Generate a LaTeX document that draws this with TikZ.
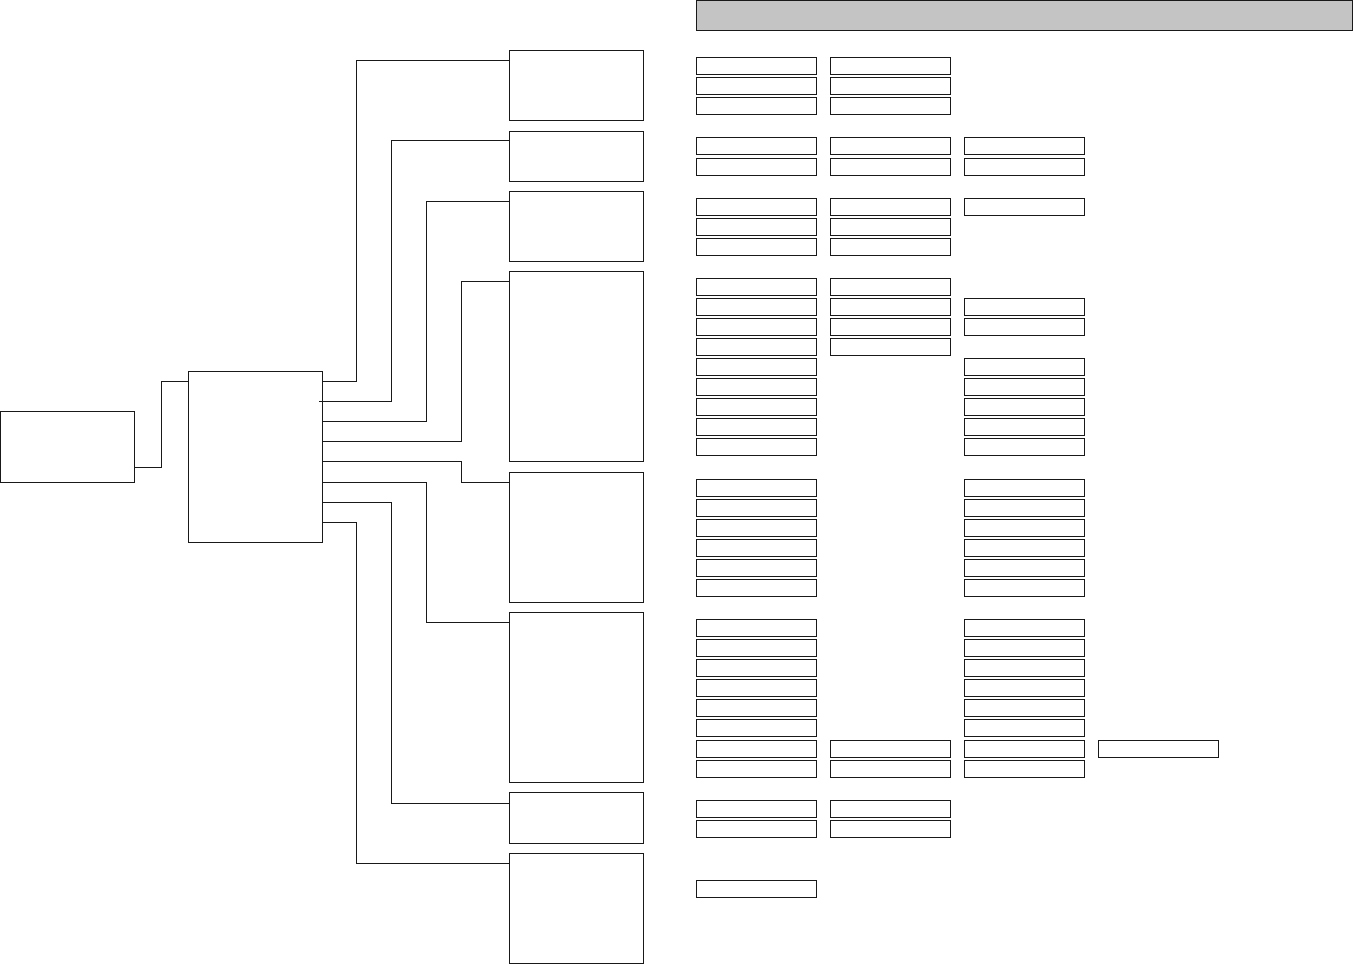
\documentclass[tikz,border=0pt]{standalone}
\usepackage{tikz}
\begin{document}
\begin{tikzpicture}[x=1pt,y=-1pt,line width=1.1pt,
  box/.style={draw=black!90,fill=white,inner sep=0pt,outer sep=0pt,anchor=north west,line width=1.1pt},
  sbox/.style={box,minimum width=120pt,minimum height=17pt},
  conn/.style={draw=black!90,line width=1.1pt}]
\useasboundingbox (0,0) rectangle (1353,964);
% header bar
\node[box,fill=black!23,minimum width=656pt,minimum height=30pt] (hdr) at (696.3,0.7) {};
% left and middle boxes
\node[box,minimum width=134pt,minimum height=71pt] (L) at (0.6,411.3) {};
\node[box,minimum width=134pt,minimum height=171pt] (M) at (188.3,371.3) {};
% right column boxes
\node[box,minimum width=134pt,minimum height=70pt] (B1) at (509.3,50.3) {};
\node[box,minimum width=134pt,minimum height=50pt] (B2) at (509.3,131.3) {};
\node[box,minimum width=134pt,minimum height=70pt] (B3) at (509.3,191.3) {};
\node[box,minimum width=134pt,minimum height=190pt] (B4) at (509.3,271.3) {};
\node[box,minimum width=134pt,minimum height=130pt] (B5) at (509.3,472.3) {};
\node[box,minimum width=134pt,minimum height=170pt] (B6) at (509.3,612.3) {};
\node[box,minimum width=134pt,minimum height=51pt] (B7) at (509.3,792.3) {};
\node[box,minimum width=134pt,minimum height=110pt] (B8) at (509.3,853.3) {};
% connectors
\draw[conn] (L.east |- 0,467.3) -| (161.3,381.3) -- (M.west |- 0,381.3);
\draw[conn] (M.east |- 0,381.3) -| (356.3,60.3) -- (B1.west |- 0,60.3);
\draw[conn] (319,401.3) -| (391.3,140.3) -- (B2.west |- 0,140.3);
\draw[conn] (M.east |- 0,421.3) -| (426.3,201.3) -- (B3.west |- 0,201.3);
\draw[conn] (M.east |- 0,441.3) -| (461.5,281.3) -- (B4.west |- 0,281.3);
\draw[conn] (M.east |- 0,461.3) -| (461.5,482.3) -- (B5.west |- 0,482.3);
\draw[conn] (M.east |- 0,482.3) -| (426.3,622.3) -- (B6.west |- 0,622.3);
\draw[conn] (M.east |- 0,502.3) -| (391.3,803.3) -- (B7.west |- 0,803.3);
\draw[conn] (M.east |- 0,522.3) -| (356.3,863.3) -- (B8.west |- 0,863.3);
% small boxes
\foreach \y in {57.3,77.3,97.3,137.3,158.3,198.3,218.3,238.3,278.3,298.3,318.3,338.3,358.3,378.3,398.3,418.3,438.3,479.3,499.3,519.3,539.3,559.3,579.3,619.3,639.3,659.3,679.3,699.3,719.3,740.3,760.3,800.3,820.3,880.3}
  \node[sbox] (a-\y) at (696.3,\y) {};
\foreach \y in {57.3,77.3,97.3,137.3,158.3,198.3,218.3,238.3,278.3,298.3,318.3,338.3,740.3,760.3,800.3,820.3}
  \node[sbox] (b-\y) at (830.3,\y) {};
\foreach \y in {137.3,158.3,198.3,298.3,318.3,358.3,378.3,398.3,418.3,438.3,479.3,499.3,519.3,539.3,559.3,579.3,619.3,639.3,659.3,679.3,699.3,719.3,740.3,760.3}
  \node[sbox] (c-\y) at (964.3,\y) {};
\node[sbox] (d-740) at (1098.3,740.3) {};
\end{tikzpicture}
\end{document}
